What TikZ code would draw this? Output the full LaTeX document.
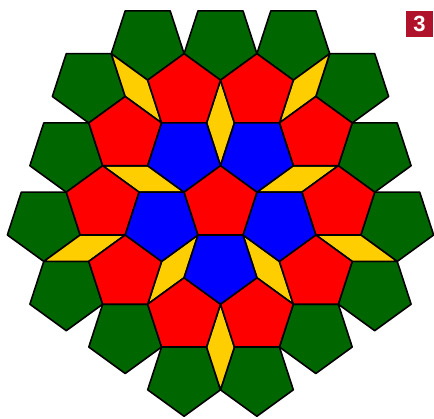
\documentclass[tikz,border=0pt]{standalone}
\usepackage{fontspec}
\setsansfont{Liberation Sans}
\usepackage{tikz}
\usetikzlibrary{calc}
\definecolor{tilegreen}{RGB}{0,102,0}
\definecolor{tilered}{RGB}{255,0,0}
\definecolor{tileblue}{RGB}{0,0,255}
\definecolor{tileyellow}{RGB}{255,206,0}
\definecolor{badgered}{RGB}{176,18,44}
% regular pentagon: centre, angle of first corner, fill
\newcommand{\penta}[3]{%
  \filldraw[tile,fill=#3,shift={#1}] (#2:\circR) -- (#2+72:\circR) -- (#2+144:\circR)
    -- (#2+216:\circR) -- (#2+288:\circR) -- cycle;}
% thin rhombus: sharp corner, direction of long diagonal
\newcommand{\rhomb}[2]{%
  \filldraw[tile,fill=tileyellow,shift={#1}] (0,0) -- (#2+18:\side) -- (#2:\diag)
    -- (#2-18:\side) -- cycle;}

\begin{document}
\begin{tikzpicture}[x=1pt,y=1pt,
    tile/.style={draw=black,line width=1.6pt,line join=round}]
  \useasboundingbox (-220.5,-214) rectangle (213.5,204);
  \pgfmathsetmacro{\side}{45}
  \pgfmathsetmacro{\circR}{0.85065*\side}
  \pgfmathsetmacro{\gap}{2*0.68819*\side}
  \pgfmathsetmacro{\diag}{1.90211*\side}

  % outer ring
  \foreach \t in {54,126,198,270,342} {
    \penta{($(\t:\gap)+(\t-36:\gap)+(\t-72:\gap)$)}{\t}{tilegreen}
    \penta{($(\t:\gap)+(\t-36:\gap)+(\t:\gap)$)}{\t}{tilegreen}
    \penta{($(\t:\gap)+(\t+36:\gap)+(\t:\gap)$)}{\t}{tilegreen}
  }
  % rhombi
  \foreach \t in {54,126,198,270,342} {
    \rhomb{(\t-36:\circR)}{\t-36}
    \rhomb{(\t:\gap+\circR)}{\t}
  }
  % inner rings
  \foreach \t in {54,126,198,270,342} {
    \penta{($(\t:\gap)+(\t-36:\gap)$)}{90}{tilered}
    \penta{($(\t:\gap)+(\t+36:\gap)$)}{90}{tilered}
    \penta{(\t:\gap)}{\t}{tileblue}
  }
  \penta{(0,0)}{90}{tilered}

  \node[fill=badgered,text=white,font=\sffamily\bfseries\fontsize{22}{22}\selectfont,
    minimum width=27pt,minimum height=26pt,inner sep=0pt] (badge) at (199,180) {3};
\end{tikzpicture}
\end{document}
